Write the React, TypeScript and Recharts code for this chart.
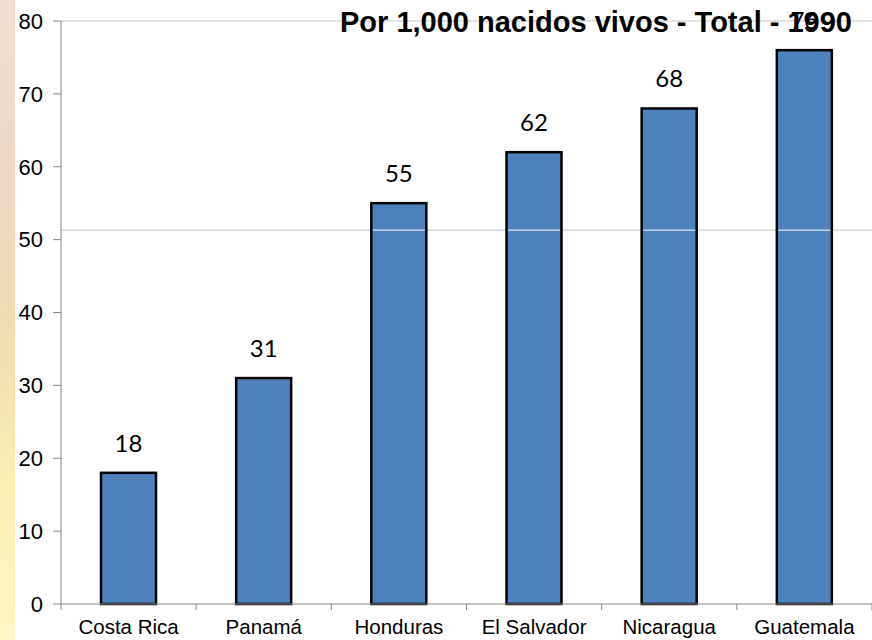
import React from 'react';
import { BarChart, Bar, XAxis, YAxis, LabelList, ReferenceLine, CartesianGrid } from 'recharts';

// infant mortality, per 1,000 live births, 1990
const countries = ['Costa Rica', 'Panamá', 'Honduras', 'El Salvador', 'Nicaragua', 'Guatemala'];
const rates = [18, 31, 55, 62, 68, 76];
const yTicks = [0, 10, 20, 30, 40, 50, 60, 70, 80];
const title = 'Por 1,000 nacidos vivos - Total - 1990';
const stripeValue = 51.3; // the thin line that runs across the slide

const data = countries.map((name, i) => ({ name, rate: rates[i] }));

const AXIS = '#868686';

const BarWithStripe = (props: any) => {
  const { x, y, width, height, value } = props;
  const v = Array.isArray(value) ? value[1] : value;
  const stripeY = y + height - (height * stripeValue) / v;
  return (
    <g>
      <rect x={x} y={y} width={width} height={height} fill="#4F81BD" stroke="#000" strokeWidth={2.5} />
      {v > stripeValue && (
        <line x1={x + 1.5} x2={x + width - 1.5} y1={stripeY} y2={stripeY} stroke="#fff" strokeWidth={1} />
      )}
    </g>
  );
};

const CountryTick = (props: any) => {
  const { x, y, payload, index } = props;
  const half = payload.offset ?? 0;
  return (
    <g>
      {index === 0 && <line x1={x - half} x2={x - half} y1={y - 8} y2={y - 2} stroke={AXIS} />}
      <line x1={x + half} x2={x + half} y1={y - 8} y2={y - 2} stroke={AXIS} />
      <text x={x} y={y + 22} textAnchor="middle" fontSize={20.5} fill="#000" fontFamily="'Liberation Sans', Arial, sans-serif">
        {payload.value}
      </text>
    </g>
  );
};

export default function App() {
  return (
    <div style={{ position: 'absolute', left: 0, top: 0, width: 872, height: 640, background: '#fff', overflow: 'hidden' }}>
      <div
        style={{
          position: 'absolute', left: 0, top: 0, width: 15, height: 640,
          background: 'linear-gradient(180deg, #f1ddd0 0%, #efd6c2 30%, #f3dcb0 55%, #fbeeb2 75%, #fff6c4 100%)',
        }}
      />
      <BarChart
        width={872}
        height={640}
        data={data}
        margin={{ top: 21, right: 0, bottom: 0, left: 0 }}
        style={{ fontFamily: "'Liberation Sans', Arial, sans-serif" }}
      >
        <CartesianGrid vertical={false} horizontalValues={[stripeValue]} stroke="#c8c8c8" />
        <XAxis dataKey="name" stroke={AXIS} tickLine={false} tick={<CountryTick />} interval={0} height={36} />
        <YAxis
          width={61}
          domain={[0, 80]}
          ticks={yTicks}
          stroke={AXIS}
          tickSize={8}
          tickMargin={10}
          tick={{ fill: '#000', fontSize: 22 }}
        />
        <ReferenceLine y={80} stroke="#d9d9d9" strokeWidth={1.5} />
        <Bar dataKey="rate" barSize={55} shape={<BarWithStripe />} isAnimationActive={false}>
          <LabelList dataKey="rate" position="top" offset={21} fill="#000" fontSize={24} fontFamily="Lato, 'Noto Sans', sans-serif" />
        </Bar>
      </BarChart>
      <svg width={872} height={60} style={{ position: 'absolute', left: 0, top: 0, pointerEvents: 'none' }}>
        <text x={852} y={32} textAnchor="end" fontSize={29} fontWeight="bold" fill="#000" fontFamily="'Liberation Sans', Arial, sans-serif">
          {title}
        </text>
      </svg>
    </div>
  );
}
